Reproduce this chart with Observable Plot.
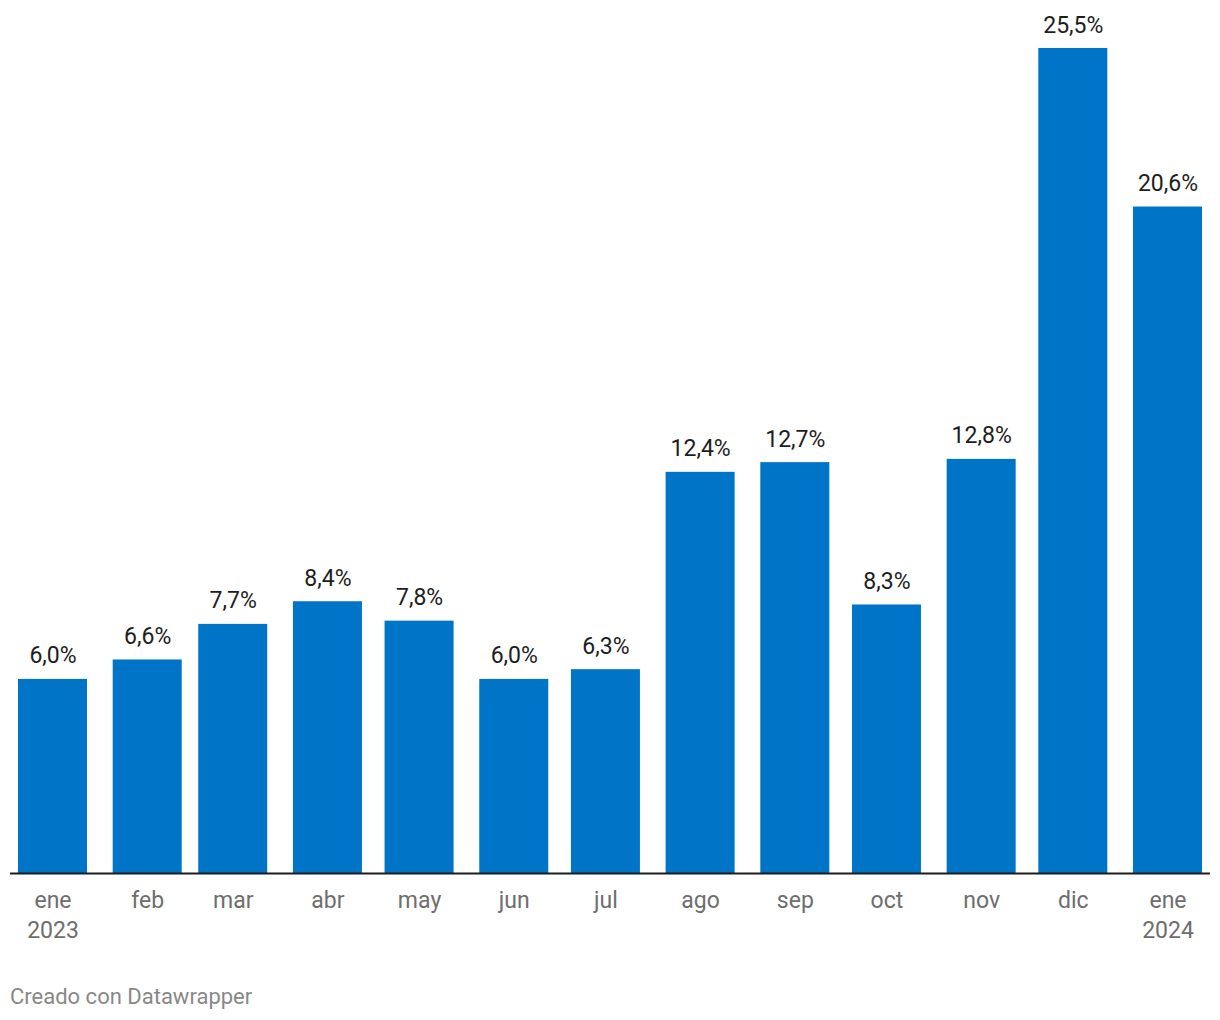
<!DOCTYPE html>
<html>
<head>
<meta charset="utf-8">
<script src="https://cdn.jsdelivr.net/npm/d3@7"></script>
<script src="https://cdn.jsdelivr.net/npm/@observablehq/plot@0.6"></script>
<style>
  html, body { margin: 0; padding: 0; background: #fff; }
  body { width: 1220px; height: 1020px; position: relative; font-family: Roboto, "Noto Sans", sans-serif; }
  #chart { position: absolute; left: 0; top: 0; }
  #footer { position: absolute; left: 10px; top: 986px; font-size: 22px; line-height: 1; color: #888; }
</style>
</head>
<body>
<div id="chart"></div>
<div id="footer">Creado con Datawrapper</div>
<script>
// Data
const months = ["2023-01","2023-02","2023-03","2023-04","2023-05","2023-06","2023-07","2023-08","2023-09","2023-10","2023-11","2023-12","2024-01"];
const values = [6.0, 6.6, 7.7, 8.4, 7.8, 6.0, 6.3, 12.4, 12.7, 8.3, 12.8, 25.5, 20.6];
const tickLabels = ["ene\n2023","feb","mar","abr","may","jun","jul","ago","sep","oct","nov","dic","ene\n2024"];

const DAY = 86400000;
const parse = s => { const [y, m] = s.split("-").map(Number); return new Date(Date.UTC(y, m - 1, 1)); };
const data = months.map((m, i) => ({date: parse(m), value: values[i], label: tickLabels[i]}));
const fmt = v => v.toFixed(1).replace(".", ",") + "%";

const halfBar = 11.294 * DAY;   // bar half-width in time units
const pad = 13.913 * DAY;        // outer padding in time units
const labelMap = new Map(data.map(d => [+d.date, d.label]));

const W = 1220, H = 960;
const chart = Plot.plot({
  width: W,
  height: H,
  marginLeft: 10,
  marginRight: 10,
  marginTop: 48,
  marginBottom: H - 873,
  style: {fontFamily: "Roboto, 'Noto Sans', sans-serif", background: "#fff"},
  x: {type: "utc", domain: [new Date(+data[0].date - pad), new Date(+data[data.length - 1].date + pad)]},
  y: {domain: [0, 25.5], axis: null},
  marks: [
    Plot.rectY(data, {
      x1: d => new Date(+d.date - halfBar),
      x2: d => new Date(+d.date + halfBar),
      y1: 0,
      y2: "value",
      fill: "#0074c6"
    }),
    Plot.ruleY([0], {stroke: "#1d1d1d", strokeWidth: 2}),
    Plot.text(data, {
      x: "date",
      y: "value",
      text: d => fmt(d.value),
      lineAnchor: "bottom",
      dy: -16,
      fontSize: 23,
      fill: "#1d1d1d"
    }),
    Plot.axisX({
      ticks: data.map(d => d.date),
      tickFormat: d => labelMap.get(+d),
      tickSize: 0,
      tickPadding: 13,
      fontSize: 23,
      lineHeight: 1.3,
      color: "#6e6e6e",
      label: null
    })
  ]
});
document.getElementById("chart").appendChild(chart);
</script>
</body>
</html>
